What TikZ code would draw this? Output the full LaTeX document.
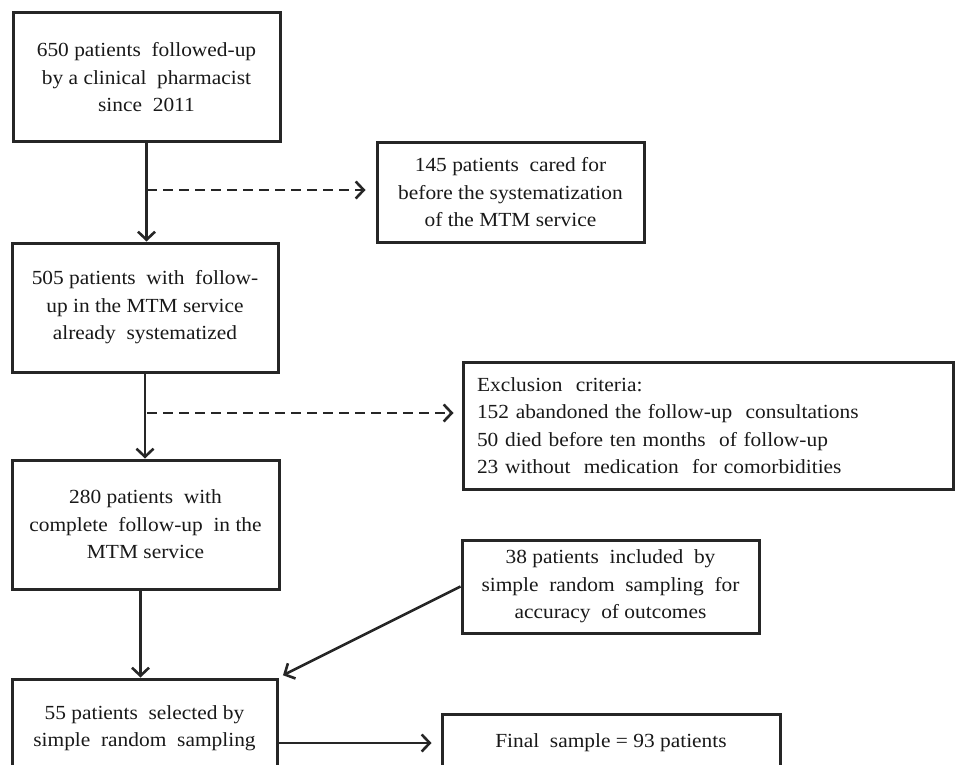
\documentclass[tikz,border=0pt]{standalone}
\usepackage{fontspec}
\setmainfont[FakeStretch=1.07]{Liberation Serif}
\usetikzlibrary{arrows.meta,calc}
\begin{document}
\begin{tikzpicture}[x=1pt,y=-1pt,
  box/.style={draw=black!85, line width=3pt, inner sep=0pt, align=center,
    font=\fontsize{20}{27.5}\selectfont, text=black!90},
  conn/.style={draw=black!85, line width=2.6pt, -{Straight Barb[length=8pt,width=17pt,line width=2.6pt]}},
  dconn/.style={conn, dash pattern=on 10pt off 6pt}]
\useasboundingbox (0,0) rectangle (956,765);
\clip (0,0) rectangle (956,765);
\fill[white] (0,0) rectangle (956,765);
\node[box, minimum width=267pt, minimum height=129pt] (b1) at (146.5,77.5)
  {650 patients\ \ followed-up\\by a clinical\ \ pharmacist\\since\ \ 2011};
\node[box, minimum width=267pt, minimum height=99pt] (b2) at (510.5,192.5)
  {145 patients\ \ cared for\\before the\ systematization\\of the MTM service};
\node[box, minimum width=266pt, minimum height=129pt] (b3) at (145,307.5)
  {505 patients\ \ with\ \ follow-\\up\ in the\ MTM service\\already\ \ systematized};
\node[box, minimum width=490pt, minimum height=127pt, align=left, text width=462pt] (ex) at (708,425.5)
  {Exclusion\ \ criteria:\\152 abandoned the follow-up\ \ consultations\\50 died before ten months\ \ of follow-up\\23 without\ \ medication\ \ for comorbidities};
\node[box, minimum width=267pt, minimum height=129pt] (b4) at (145.5,524.5)
  {280 patients\ \ with\\complete\ \ follow-up\ \ in\ the\\MTM service};
\node[box, minimum width=297pt, minimum height=93pt] (b5) at (610.5,586.5)
  {38 patients\ \ included\ \ by\\simple\ \ random\ \ sampling\ \ for\\accuracy\ \ of outcomes};
\node[box, minimum width=265pt, minimum height=98pt] (b6) at (144.5,728)
  {55 patients\ \ selected by\\simple\ \ random\ \ sampling};
\node[box, minimum width=338pt, minimum height=58pt] (b7) at (611,743)
  {Final\ \ sample\ = 93 patients};
\coordinate (d1) at (147,190);
\coordinate (d2) at (147,413);
\draw[conn] (b1.south) -- (b1.south |- b3.north);
\draw[dconn, shorten >=10pt] (d1) -- (b2.west |- d1);
\draw[conn] (b3.south) -- (b3.south |- b4.north);
\draw[dconn, shorten >=8pt] (d2) -- (ex.west |- d2);
\draw[conn] ([xshift=-5pt]b4.south) -- ([xshift=-5pt]b4.south |- b6.north);
\draw[conn, shorten >=5pt] (b5.west) -- (b6.north east);
\draw[conn, shorten >=9pt] (b6.east |- b7.west) -- (b7.west);
\end{tikzpicture}
\end{document}
